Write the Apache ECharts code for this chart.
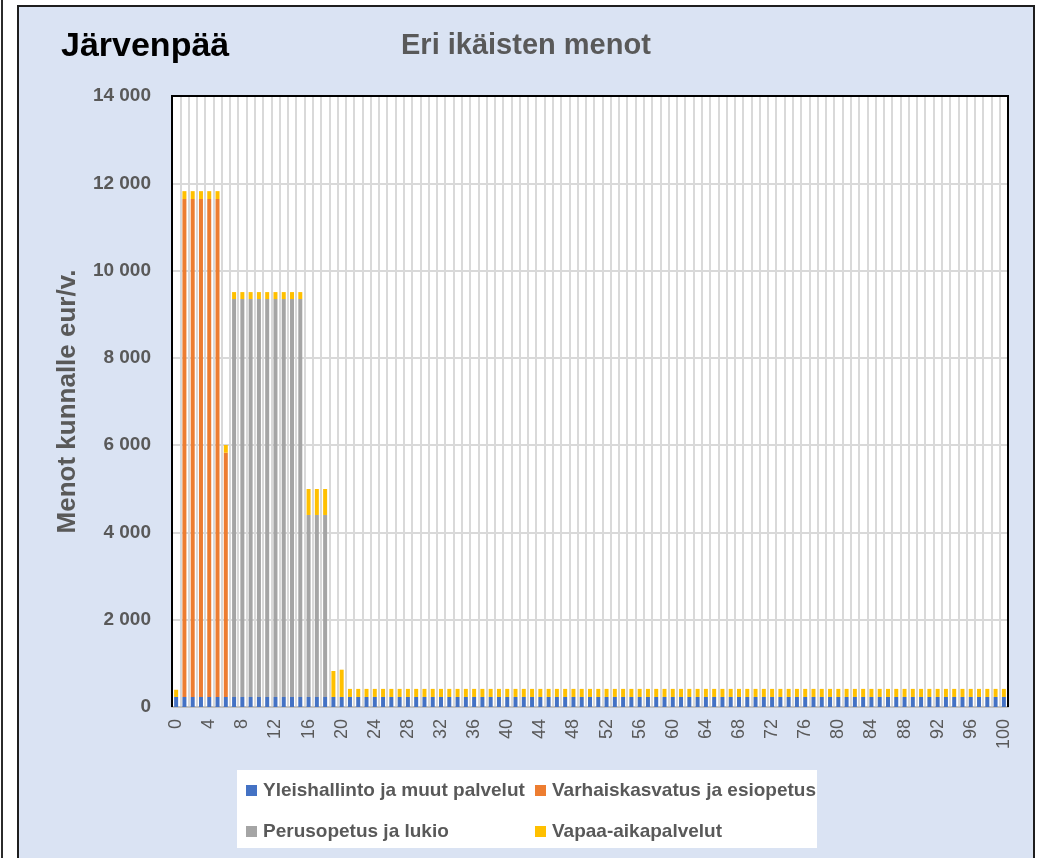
<!DOCTYPE html>
<html>
<head>
<meta charset="utf-8">
<script src="https://cdn.jsdelivr.net/npm/echarts@6/dist/echarts.min.js"></script>
<style>
  html, body { margin: 0; padding: 0; background: #fff; width: 1043px; height: 858px; overflow: hidden; }
  .prev-edge { position: absolute; left: 1px; top: 0; width: 2px; height: 858px; background: #2b2b2b; }
  .panel { position: absolute; left: 17px; top: 5px; width: 1014px; height: 900px; border: 2px solid #1e1e1e; background: #dae3f3; }
  #chart { position: absolute; left: 0; top: 0; width: 1043px; height: 858px; }
</style>
</head>
<body>
<div class="prev-edge"></div>
<div class="panel"></div>
<div id="chart"></div>
<script>
// ikä 0..100
const ages = [
  0, 1, 2, 3, 4, 5, 6, 7, 8, 9,
  10, 11, 12, 13, 14, 15, 16, 17, 18, 19,
  20, 21, 22, 23, 24, 25, 26, 27, 28, 29,
  30, 31, 32, 33, 34, 35, 36, 37, 38, 39,
  40, 41, 42, 43, 44, 45, 46, 47, 48, 49,
  50, 51, 52, 53, 54, 55, 56, 57, 58, 59,
  60, 61, 62, 63, 64, 65, 66, 67, 68, 69,
  70, 71, 72, 73, 74, 75, 76, 77, 78, 79,
  80, 81, 82, 83, 84, 85, 86, 87, 88, 89,
  90, 91, 92, 93, 94, 95, 96, 97, 98, 99,
  100
]

// Yleishallinto ja muut palvelut
const yleishallinto = [
  230, 230, 230, 230, 230, 230, 230, 230, 230, 230,
  230, 230, 230, 230, 230, 230, 230, 230, 230, 230,
  230, 230, 230, 230, 230, 230, 230, 230, 230, 230,
  230, 230, 230, 230, 230, 230, 230, 230, 230, 230,
  230, 230, 230, 230, 230, 230, 230, 230, 230, 230,
  230, 230, 230, 230, 230, 230, 230, 230, 230, 230,
  230, 230, 230, 230, 230, 230, 230, 230, 230, 230,
  230, 230, 230, 230, 230, 230, 230, 230, 230, 230,
  230, 230, 230, 230, 230, 230, 230, 230, 230, 230,
  230, 230, 230, 230, 230, 230, 230, 230, 230, 230,
  230
]

// Varhaiskasvatus ja esiopetus
const varhaiskasvatus = [
  0, 11410, 11410, 11410, 11410, 11410, 5596, 0, 0, 0,
  0, 0, 0, 0, 0, 0, 0, 0, 0, 0,
  0, 0, 0, 0, 0, 0, 0, 0, 0, 0,
  0, 0, 0, 0, 0, 0, 0, 0, 0, 0,
  0, 0, 0, 0, 0, 0, 0, 0, 0, 0,
  0, 0, 0, 0, 0, 0, 0, 0, 0, 0,
  0, 0, 0, 0, 0, 0, 0, 0, 0, 0,
  0, 0, 0, 0, 0, 0, 0, 0, 0, 0,
  0, 0, 0, 0, 0, 0, 0, 0, 0, 0,
  0, 0, 0, 0, 0, 0, 0, 0, 0, 0,
  0
]

// Perusopetus ja lukio
const perusopetus = [
  0, 0, 0, 0, 0, 0, 0, 9117, 9117, 9117,
  9117, 9117, 9117, 9117, 9117, 9117, 4170, 4170, 4170, 0,
  0, 0, 0, 0, 0, 0, 0, 0, 0, 0,
  0, 0, 0, 0, 0, 0, 0, 0, 0, 0,
  0, 0, 0, 0, 0, 0, 0, 0, 0, 0,
  0, 0, 0, 0, 0, 0, 0, 0, 0, 0,
  0, 0, 0, 0, 0, 0, 0, 0, 0, 0,
  0, 0, 0, 0, 0, 0, 0, 0, 0, 0,
  0, 0, 0, 0, 0, 0, 0, 0, 0, 0,
  0, 0, 0, 0, 0, 0, 0, 0, 0, 0,
  0
]

// Vapaa-aikapalvelut
const vapaaAika = [
  165, 180, 180, 180, 180, 180, 177, 160, 160, 160,
  160, 160, 160, 160, 160, 160, 595, 595, 595, 595,
  625, 185, 185, 185, 185, 185, 185, 185, 185, 185,
  185, 185, 185, 185, 185, 185, 185, 185, 185, 185,
  185, 185, 185, 185, 185, 185, 185, 185, 185, 185,
  185, 185, 185, 185, 185, 185, 185, 185, 185, 185,
  185, 185, 185, 185, 185, 185, 185, 185, 185, 185,
  185, 185, 185, 185, 185, 185, 185, 185, 185, 185,
  185, 185, 185, 185, 185, 185, 185, 185, 185, 185,
  185, 185, 185, 185, 185, 185, 185, 185, 185, 185,
  185
]

const seriesNames = ['Yleishallinto ja muut palvelut', 'Varhaiskasvatus ja esiopetus', 'Perusopetus ja lukio', 'Vapaa-aikapalvelut']
const colors = ['#4472c4', '#ed7d31', '#a5a5a5', '#ffc000']

const font = '"Liberation Sans", Arial, sans-serif'
const grey = '#595959'

function fmt(v) {
  return String(v).replace(/\B(?=(\d{3})+(?!\d))/g, ' ')
}

function legendAt(name, left, top) {
  return {
    data: [name],
    left: left,
    top: top,
    padding: 0,
    icon: 'rect',
    itemWidth: 11,
    itemHeight: 11,
    textStyle: { fontFamily: font, fontSize: 19, fontWeight: 'bold', color: grey, padding: [0, 0, 0, 1] },
    selectedMode: false
  }
}

const chart = echarts.init(document.getElementById('chart'))

chart.setOption({
  animation: false,
  color: colors,
  textStyle: { fontFamily: font },
  title: [
    { text: 'Järvenpää', left: 61, top: 30, padding: 0,
      textStyle: { fontFamily: font, fontSize: 34, fontWeight: 'bold', color: '#000' } },
    { text: 'Eri ikäisten menot', left: 401, top: 31, padding: 0,
      textStyle: { fontFamily: font, fontSize: 29, fontWeight: 'bold', color: grey } }
  ],
  graphic: [
    { type: 'rect', shape: { x: 237, y: 770, width: 580, height: 78 }, style: { fill: '#fff' }, z: -1 },
    // plot frame: left, top and right edges are black in the original
    { type: 'polyline', shape: { points: [[172, 707], [172, 96], [1008, 96], [1008, 707]] },
      style: { stroke: '#000', lineWidth: 2, fill: null }, z: 10 }
  ],
  legend: [
    legendAt(seriesNames[0], 246, 781),
    legendAt(seriesNames[1], 535, 781),
    legendAt(seriesNames[2], 246, 822),
    legendAt(seriesNames[3], 535, 822)
  ],
  grid: {
    left: 172, right: 35, top: 96, bottom: 151,
    show: true, backgroundColor: '#fff', borderWidth: 0
  },
  xAxis: {
    type: 'category',
    data: ages,
    axisLine: { lineStyle: { color: '#bfbfbf', width: 2 } },
    axisTick: { show: false },
    splitLine: { show: true, interval: 0, lineStyle: { color: '#d9d9d9', width: 2 } },
    axisLabel: { interval: 3, rotate: 90, margin: 12, fontFamily: font, fontSize: 18, color: grey }
  },
  yAxis: {
    type: 'value',
    min: 0, max: 14000, interval: 2000,
    name: 'Menot kunnalle eur/v.',
    nameLocation: 'middle',
    nameGap: 91,
    nameTextStyle: { fontFamily: font, fontSize: 26, fontWeight: 'bold', color: grey },
    axisLine: { show: false },
    axisTick: { show: false },
    splitLine: { lineStyle: { color: '#d9d9d9', width: 2 } },
    axisLabel: { formatter: fmt, margin: 21, fontFamily: font, fontSize: 19, fontWeight: 'bold', color: grey }
  },
  series: [
    { name: seriesNames[0], type: 'bar', stack: 'menot', barWidth: 4, data: yleishallinto },
    { name: seriesNames[1], type: 'bar', stack: 'menot', barWidth: 4, data: varhaiskasvatus },
    { name: seriesNames[2], type: 'bar', stack: 'menot', barWidth: 4, data: perusopetus },
    { name: seriesNames[3], type: 'bar', stack: 'menot', barWidth: 4, data: vapaaAika }
  ]
})
</script>
</body>
</html>
